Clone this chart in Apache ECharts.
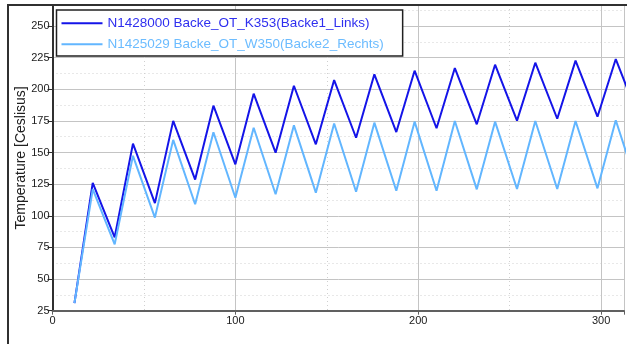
<!DOCTYPE html>
<html>
<head>
<meta charset="utf-8">
<script src="https://cdn.jsdelivr.net/npm/echarts@6/dist/echarts.min.js"></script>
<style>
html,body{margin:0;padding:0;background:#fff;}
#chart{width:627px;height:344px;}
</style>
</head>
<body>
<div id="chart"></div>
<script>
var seriesNames = ['N1428000 Backe_OT_K353(Backe1_Links)', 'N1425029 Backe_OT_W350(Backe2_Rechts)'];
var timeValues = [12, 22, 34, 44, 56, 66, 78, 88, 100, 110, 122, 132, 144, 154, 166, 176, 188, 198, 210, 220, 232, 242, 254, 264, 276, 286, 298, 308, 320];
var tempLinks = [31, 126, 83, 157, 110, 175, 128.6, 187, 140.7, 196.5, 149.9, 202.8, 156.5, 207.3, 161.7, 211.8, 166.2, 214.7, 169.2, 216.8, 172.3, 219.4, 175.2, 221, 176.7, 222.6, 178.3, 223.9, 179.5];
var tempRechts = [31, 121, 77.5, 147.4, 98.6, 160, 109.1, 166, 114.3, 169.6, 117, 171.5, 118.3, 173, 119, 173.6, 119.8, 174.4, 119.8, 174.9, 120.9, 174.4, 121.2, 174.9, 121.2, 174.9, 121.7, 175.5, 122];
var yAxisName = 'Temperature [Ceslisus]';
var colors = ['#1414e8', '#62b6ff'];
var legendTextColors = ['#2f2fef', '#6cbcff'];

function pairs(xs, ys) {
  var out = [];
  for (var i = 0; i < xs.length; i++) out.push([xs[i], ys[i]]);
  return out;
}

var chart = echarts.init(document.getElementById('chart'), null, {renderer: 'canvas'});
var tickFont = "'Liberation Sans Narrow', 'Arial Narrow', 'Liberation Sans', sans-serif";
chart.setOption({
  animation: false,
  backgroundColor: '#ffffff',
  grid: {left: 52.5, right: 0, top: 5, bottom: 33.3, containLabel: false},
  legend: {
    orient: 'vertical',
    left: 56.5,
    top: 10,
    icon: 'rect',
    itemWidth: 41,
    itemHeight: 2,
    itemGap: 5,
    padding: [5.3, 19, 3.7, 5],
    backgroundColor: '#ffffff',
    borderColor: '#202020',
    borderWidth: 1.5,
    borderRadius: 0,
    textStyle: {fontFamily: "'Liberation Sans', Arial, sans-serif", fontSize: 13.5, lineHeight: 16},
    data: [
      {name: seriesNames[0], itemStyle: {color: colors[0]}, textStyle: {color: legendTextColors[0]}},
      {name: seriesNames[1], itemStyle: {color: colors[1]}, textStyle: {color: legendTextColors[1]}}
    ]
  },
  xAxis: {
    type: 'value',
    min: 0,
    max: 312.5,
    interval: 100,
    axisLine: {show: true, onZero: false, lineStyle: {color: '#606060', width: 2}},
    axisTick: {show: true, length: 4, lineStyle: {color: '#606060'}},
    axisLabel: {
      color: '#202020', fontSize: 11, fontFamily: tickFont, margin: 5,
      formatter: function (v) { return (v % 100 === 0) ? String(v) : ''; }
    },
    splitLine: {show: true, lineStyle: {color: '#c4c4c4', width: 1}},
    minorTick: {show: false, splitNumber: 2},
    minorSplitLine: {show: true, lineStyle: {color: '#d0d0d0', width: 1, type: [1, 3]}}
  },
  yAxis: {
    type: 'value',
    min: 25,
    max: 266.6,
    interval: 25,
    name: yAxisName,
    nameLocation: 'middle',
    nameGap: 24,
    nameMoveOverlap: false,
    nameTextStyle: {color: '#202020', fontSize: 14, fontFamily: "'Liberation Sans', Arial, sans-serif"},
    axisLine: {show: true, onZero: false, lineStyle: {color: '#303030', width: 2}},
    axisTick: {show: true, length: 5, lineStyle: {color: '#303030'}},
    axisLabel: {
      color: '#202020', fontSize: 11, fontFamily: tickFont, margin: 3,
      formatter: function (v) { return (Math.abs(v % 25) < 1e-6) ? String(v) : ''; }
    },
    splitLine: {show: true, lineStyle: {color: '#c4c4c4', width: 1}},
    minorTick: {show: false, splitNumber: 2},
    minorSplitLine: {show: true, lineStyle: {color: '#d0d0d0', width: 1, type: [1, 3]}}
  },
  graphic: [{
    type: 'rect',
    z: 100,
    silent: true,
    shape: {x: 8, y: 5, width: 700, height: 400},
    style: {fill: null, stroke: '#303030', lineWidth: 2}
  }],
  series: [
    {
      name: seriesNames[0],
      type: 'line',
      data: pairs(timeValues, tempLinks),
      symbol: 'none',
      clip: true,
      lineStyle: {color: colors[0], width: 2},
      itemStyle: {color: colors[0]}
    },
    {
      name: seriesNames[1],
      type: 'line',
      data: pairs(timeValues, tempRechts),
      symbol: 'none',
      clip: true,
      lineStyle: {color: colors[1], width: 2},
      itemStyle: {color: colors[1]}
    }
  ]
});
</script>
</body>
</html>
